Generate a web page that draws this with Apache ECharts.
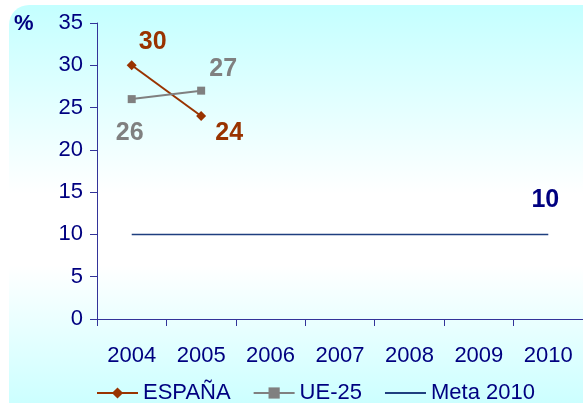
<!DOCTYPE html>
<html>
<head>
<meta charset="utf-8">
<script src="https://cdn.jsdelivr.net/npm/echarts@6/dist/echarts.min.js"></script>
<style>
  html, body { margin: 0; padding: 0; background: #fff; }
  #chart { width: 583px; height: 403px; }
</style>
</head>
<body>
<div id="chart"></div>
<script>
  var years = ['2004', '2005', '2006', '2007', '2008', '2009', '2010'];
  var espana = [30, 24, null, null, null, null, null];
  var ue25 = [26, 27, null, null, null, null, null];
  var meta2010 = [10, 10, 10, 10, 10, 10, 10];
  var yTicks = [0, 5, 10, 15, 20, 25, 30, 35];

  var navy = '#000080';
  var chart = echarts.init(document.getElementById('chart'));

  function lbl(color, offset) {
    return {
      show: true,
      position: 'inside',
      offset: offset,
      color: color,
      fontFamily: 'Liberation Sans',
      fontWeight: 'bold',
      fontSize: 25
    };
  }

  chart.setOption({
    animation: false,
    graphic: [{
      type: 'rect',
      z: -10,
      shape: { x: 9, y: 5, width: 620, height: 420, r: 20 },
      style: {
        fill: new echarts.graphic.LinearGradient(0, 0, 0, 1, [
          { offset: 0, color: '#c4ffff' },
          { offset: 0.45, color: '#ffffff' },
          { offset: 0.62, color: '#ffffff' },
          { offset: 1, color: '#c4ffff' }
        ])
      }
    }, {
      type: 'text',
      left: 14,
      top: 13,
      style: { text: '%', fill: navy, font: 'bold 22px "Liberation Sans"' }
    }],
    grid: { left: 97, width: 491.5, top: 23, bottom: 84 },
    legend: {
      top: 382,
      left: 96,
      padding: 0,
      itemWidth: 41,
      itemHeight: 14,
      itemGap: 22,
      textStyle: { color: navy, fontFamily: 'Liberation Sans', fontSize: 22 },
      data: ['ESPAÑA', 'UE-25', { name: 'Meta 2010', itemStyle: { opacity: 0 } }]
    },
    xAxis: {
      type: 'category',
      data: years,
      boundaryGap: true,
      axisLine: { lineStyle: { color: '#333399', width: 1 } },
      axisTick: { show: true, length: 7, lineStyle: { color: '#333399' } },
      axisLabel: { color: navy, fontFamily: 'Liberation Sans', fontSize: 22, margin: 26 }
    },
    yAxis: {
      type: 'value',
      min: 0,
      max: 35,
      interval: 5,
      splitLine: { show: false },
      axisLine: { show: true, lineStyle: { color: '#333399', width: 1 } },
      axisTick: { show: true, length: 7, lineStyle: { color: '#333399' } },
      axisLabel: {
        color: navy, fontFamily: 'Liberation Sans', fontSize: 22, margin: 14,
        formatter: function (v) { return yTicks.indexOf(v) >= 0 ? String(v) : ''; }
      }
    },
    series: [{
      name: 'ESPAÑA',
      type: 'line',
      symbol: 'diamond',
      symbolSize: 10,
      itemStyle: { color: '#993300' },
      lineStyle: { color: '#993300', width: 2 },
      data: [
        { value: espana[0], label: lbl('#993300', [21, -23]) },
        { value: espana[1], label: lbl('#993300', [28, 17]) }
      ].concat(espana.slice(2))
    }, {
      name: 'UE-25',
      type: 'line',
      symbol: 'rect',
      symbolSize: 8,
      itemStyle: { color: '#808080' },
      lineStyle: { color: '#808080', width: 2 },
      data: [
        { value: ue25[0], label: lbl('#808080', [-2, 34]) },
        { value: ue25[1], label: lbl('#808080', [22, -22]) }
      ].concat(ue25.slice(2))
    }, {
      name: 'Meta 2010',
      type: 'line',
      symbol: 'circle',
      symbolSize: 0,
      itemStyle: { color: '#1f3f7f' },
      lineStyle: { color: '#1f3f7f', width: 1.5 },
      z: 1,
      data: meta2010.map(function (v, i) {
        if (i === meta2010.length - 1) {
          return { value: v, label: lbl(navy, [-3, -34]) };
        }
        return v;
      })
    }]
  });
</script>
</body>
</html>
